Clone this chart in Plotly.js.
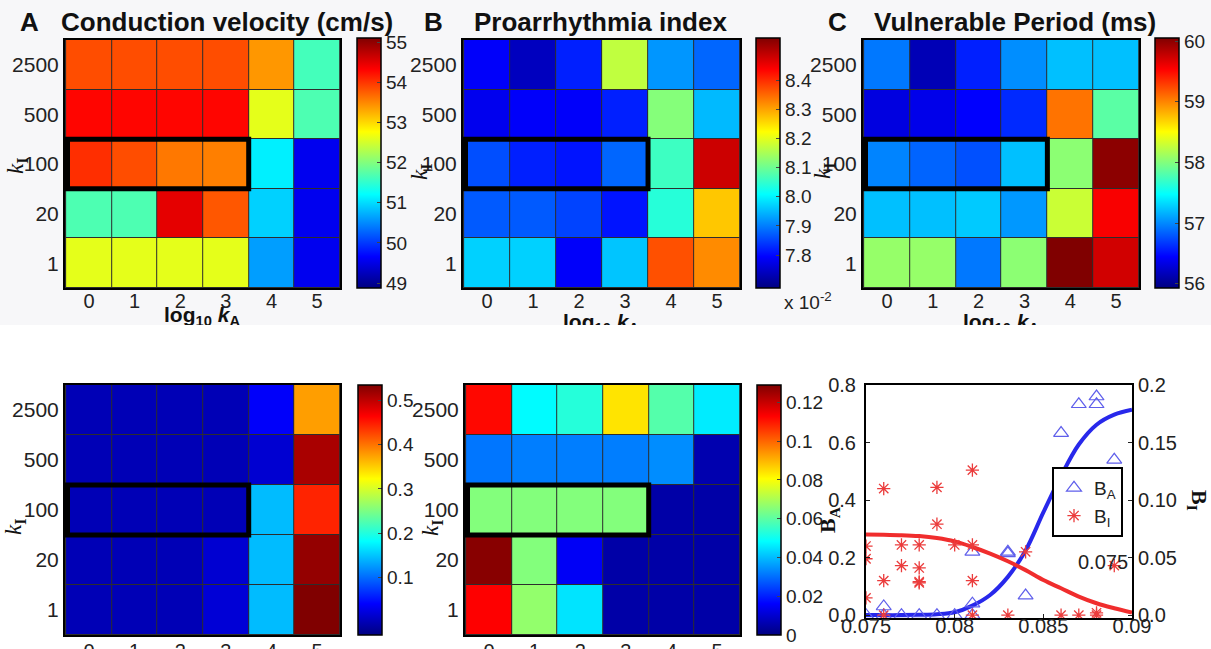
<!DOCTYPE html>
<html><head><meta charset="utf-8">
<script src="https://cdn.plot.ly/plotly-3.0.1.min.js"></script>
<style>
html,body{margin:0;padding:0;background:#fff;overflow:hidden;width:1211px;height:649px;}
#top{position:absolute;left:0;top:0;width:1211px;height:325px;}
#bot{position:absolute;left:0;top:325px;width:1211px;height:324px;}
</style></head><body>
<div id="top"></div><div id="bot"></div>
<script>
// ---------- data ----------
const kA = ['0','1','2','3','4','5'];
const kI = ['2500','500','100','20','1'];   // rows, top to bottom

// A: conduction velocity (cm/s)
const cvValues = [
  [53.85, 53.85, 53.85, 53.85, 53.40, 51.63],
  [54.29, 54.29, 54.29, 54.29, 52.61, 51.68],
  [54.04, 53.85, 53.59, 53.55, 51.12, 49.56],
  [51.68, 51.68, 54.48, 53.79, 50.93, 49.56],
  [52.61, 52.61, 52.61, 52.61, 50.62, 49.56]
];
const cvTicks = [49, 50, 51, 52, 53, 54, 55];

// B: proarrhythmia index (x 10^-2)
const proValues = [
  [7.79, 7.74, 7.82, 8.17, 7.92, 7.88],
  [7.78, 7.79, 7.79, 7.82, 8.12, 7.95],
  [7.86, 7.82, 7.81, 7.88, 8.06, 8.48],
  [7.87, 7.87, 7.85, 7.81, 8.04, 8.27],
  [7.97, 7.97, 7.79, 7.96, 8.37, 8.32]
];
const proTicks = [7.8, 7.9, 8.0, 8.1, 8.2, 8.3, 8.4];

// C: vulnerable period (ms)
const vpValues = [
  [56.93, 56.15, 56.57, 57.02, 57.22, 57.22],
  [56.32, 56.36, 56.44, 56.61, 59.07, 57.84],
  [56.98, 56.85, 56.77, 57.22, 58.04, 60.00],
  [57.22, 57.22, 57.26, 57.06, 58.29, 59.56],
  [58.08, 58.08, 56.93, 58.04, 60.05, 59.72]
];
const vpTicks = [56, 57, 58, 59, 60];

// D: bottom-left map
const dValues = [
  [0.0, 0.0, 0.0, 0.0, 0.038, 0.377],
  [0.0, 0.0, 0.0, 0.0, 0.015, 0.512],
  [0.0, 0.0, 0.0, 0.0, 0.145, 0.445],
  [0.0, 0.0, 0.0, 0.015, 0.145, 0.524],
  [0.0, 0.0, 0.0, 0.018, 0.145, 0.535]
];
const dTicks = [0.1, 0.2, 0.3, 0.4, 0.5];
const dTickText = ['0.1', '0.2', '0.3', '0.4', '0.5'];

// E: bottom-middle map
const eValues = [
  [0.112, 0.048, 0.053, 0.084, 0.059, 0.046],
  [0.031, 0.032, 0.032, 0.032, 0.034, 0.006],
  [0.065, 0.065, 0.065, 0.065, 0.005, 0.005],
  [0.128, 0.065, 0.015, 0.005, 0.005, 0.005],
  [0.113, 0.067, 0.045, 0.005, 0.005, 0.005]
];
const eTicks = [0, 0.02, 0.04, 0.06, 0.08, 0.1, 0.12];
const eTickText = ['0', '0.02', '0.04', '0.06', '0.08', '0.1', '0.12'];

// F: scatter B_A (left axis) and B_I (right axis)
const baX = [0.075, 0.076, 0.076, 0.077, 0.078, 0.079, 0.080, 0.081, 0.081, 0.081, 0.083, 0.083, 0.084, 0.086, 0.087, 0.088, 0.088, 0.089];
const baY = [0.0, 0.03, 0.0, 0.0, 0.0, 0.0, 0.0, 0.04, 0.0, 0.22, 0.22, 0.215, 0.068, 0.633, 0.733, 0.76, 0.733, 0.54];
const biX = [0.075, 0.075, 0.075, 0.076, 0.076, 0.076, 0.077, 0.077, 0.078, 0.078, 0.078, 0.078, 0.079, 0.079, 0.080, 0.081, 0.081, 0.081, 0.081, 0.083, 0.084, 0.086, 0.087, 0.088, 0.088, 0.089];
const biY = [0.060, 0.049, 0.015, 0.110, 0.030, 0.0, 0.061, 0.043, 0.061, 0.041, 0.029, 0.028, 0.111, 0.079, 0.061, 0.126, 0.061, 0.030, 0.0, 0.0, 0.055, 0.0, 0.0, 0.002, 0.0, 0.043];
const fitX  = [0.075, 0.076, 0.077, 0.078, 0.079, 0.080, 0.081, 0.082, 0.083, 0.084, 0.085, 0.086, 0.087, 0.088, 0.089, 0.090];
const baFit = [0.0, 0.0, 0.0, 0.001, 0.003, 0.010, 0.033, 0.070, 0.133, 0.225, 0.357, 0.484, 0.593, 0.662, 0.697, 0.714];
const biFit = [0.0701, 0.0698, 0.0695, 0.0687, 0.0670, 0.0641, 0.0592, 0.0534, 0.0468, 0.0391, 0.0305, 0.0233, 0.0161, 0.0103, 0.0060, 0.0023];
const fxTicks = [0.075, 0.08, 0.085, 0.09];
const fxTickText = ['0.075', '0.08', '0.085', '0.09'];
const baTicks = [0, 0.2, 0.4, 0.6, 0.8];
const baTickText = ['0.0', '0.2', '0.4', '0.6', '0.8'];
const biTicks = [0, 0.05, 0.1, 0.15, 0.2];
const biTickText = ['0.0', '0.05', '0.10', '0.15', '0.2'];

// ---------- styling ----------
const W = 1211;
const fx = p => p / W;
const fyT = p => 1 - p / 325;
const fyB = p => 1 - (p - 325) / 324;
const SANS = 'Liberation Sans, Arial, sans-serif';
const SERIF = 'Liberation Serif, Times New Roman, serif';
const jet = [[0,'rgb(0,0,128)'],[0.125,'rgb(0,0,255)'],[0.375,'rgb(0,255,255)'],[0.625,'rgb(255,255,0)'],[0.875,'rgb(255,0,0)'],[1,'rgb(128,0,0)']];

function hmX(d){return {domain:d, type:'category', showline:true, mirror:true, linecolor:'black', linewidth:2, ticks:'', showgrid:false, zeroline:false, tickfont:{family:SANS,size:20,color:'#222'}, ticklabelstandoff:-6, fixedrange:true};}
function hmY(d){return {domain:d, type:'category', autorange:'reversed', showline:true, mirror:true, linecolor:'black', linewidth:2, ticks:'', showgrid:false, zeroline:false, tickfont:{family:SANS,size:21,color:'#222'}, ticklabelstandoff:0, fixedrange:true};}
function cbar(x, y, len, extra){return Object.assign({x:x, xanchor:'left', xpad:0, ypad:0, y:y, yanchor:'middle', len:len, lenmode:'fraction', thickness:24, thicknessmode:'pixels', outlinecolor:'black', outlinewidth:1.5, ticks:'inside', ticklen:4, tickcolor:'#444', tickfont:{family:SANS,size:19,color:'#222'}}, extra);}
function hm(z, zmin, zmax, xa, ya, cb){return {type:'heatmap', x:kA, y:kI, z:z, zmin:zmin, zmax:zmax, colorscale:jet, xgap:1, ygap:1, xaxis:xa, yaxis:ya, colorbar:cb, hoverinfo:'skip'};}
function box(xa, ya){return {type:'rect', xref:xa, yref:ya, x0:-0.47, x1:3.5, y0:1.5, y1:2.5, line:{color:'black', width:5}, layer:'above'};}
function ann(text, x, y, size, opts){return Object.assign({text:text, x:x, y:y, xref:'paper', yref:'paper', xanchor:'center', yanchor:'middle', showarrow:false, font:{family:SANS, size:size, color:'#111'}}, opts||{});}
const kFont = {family:SERIF, size:23, color:'#111'};

// ---------- top row ----------
const yT = [fyT(288), fyT(40)];
const cbYT = fyT(163), cbLT = 250/325;
const topData = [
  hm(cvValues, 48.88, 55.1, 'x', 'y', cbar(fx(357), cbYT, cbLT, {tickvals:cvTicks})),
  hm(proValues, 7.687, 8.544, 'x2', 'y2', cbar(fx(756), cbYT, cbLT, {tickvals:proTicks, tickformat:'.1f'})),
  hm(vpValues, 55.93, 60.05, 'x3', 'y3', cbar(fx(1155), cbYT, cbLT, {tickvals:vpTicks}))
];
const topLayout = {
  width:1211, height:325, margin:{l:0,r:0,t:0,b:0},
  paper_bgcolor:'#f7f7f9', plot_bgcolor:'rgb(45,45,45)', showlegend:false,
  xaxis:Object.assign(hmX([fx(65), fx(340)]), {anchor:'y'}),
  yaxis:Object.assign(hmY(yT), {anchor:'x'}),
  xaxis2:Object.assign(hmX([fx(463), fx(740)]), {anchor:'y2'}),
  yaxis2:Object.assign(hmY(yT), {anchor:'x2'}),
  xaxis3:Object.assign(hmX([fx(863), fx(1139)]), {anchor:'y3'}),
  yaxis3:Object.assign(hmY(yT), {anchor:'x3'}),
  shapes:[box('x','y'), box('x2','y2'), box('x3','y3')],
  annotations:[
    ann('<b>A</b>', fx(18), fyT(22), 26, {xanchor:'left'}),
    ann('<b>Conduction velocity (cm/s)</b>', fx(59), fyT(22), 26, {xanchor:'left'}),
    ann('<b>B</b>', fx(422), fyT(22), 26, {xanchor:'left'}),
    ann('<b>Proarrhythmia index</b>', fx(472), fyT(22), 26, {xanchor:'left'}),
    ann('<b>C</b>', fx(826), fyT(22), 26, {xanchor:'left'}),
    ann('<b>Vulnerable Period (ms)</b>', fx(872), fyT(22), 26, {xanchor:'left'}),
    ann('<i>k</i><sub><b>I</b></sub>', fx(17), fyT(166), 23, {textangle:-90, font:kFont}),
    ann('<i>k</i><sub><b>I</b></sub>', fx(421), fyT(172), 23, {textangle:-90, font:kFont}),
    ann('<i>k</i><sub><b>I</b></sub>', fx(824), fyT(171), 23, {textangle:-90, font:kFont}),
    ann('<b>log<sub>10</sub> </b><i><b>k</b></i><sub><b>A</b></sub>', fx(202), fyT(316), 21),
    ann('<b>log<sub>10</sub> </b><i><b>k</b></i><sub><b>A</b></sub>', fx(601), fyT(323), 21),
    ann('<b>log<sub>10</sub> </b><i><b>k</b></i><sub><b>A</b></sub>', fx(1001), fyT(323), 21),
    ann('x 10<sup>-2</sup>', fx(782), fyT(301), 19, {xanchor:'left', font:{family:SANS,size:19,color:'#222'}})
  ]
};

// ---------- bottom row ----------
const yB = [fyB(635), fyB(385)];
const cbYB = fyB(510), cbLB = 250/324;
const botData = [
  hm(dValues, -0.03, 0.535, 'x', 'y', cbar(fx(358), cbYB, cbLB, {tickvals:dTicks, ticktext:dTickText})),
  hm(eValues, 0, 0.129, 'x2', 'y2', cbar(fx(757), cbYB, cbLB, {tickvals:eTicks, ticktext:eTickText})),
  {type:'scatter', mode:'lines', x:fitX, y:baFit, xaxis:'x3', yaxis:'y3', showlegend:false, line:{color:'rgb(40,40,235)', width:4, shape:'spline'}, hoverinfo:'skip'},
  {type:'scatter', mode:'markers', x:baX, y:baY, xaxis:'x3', yaxis:'y3', name:'B<sub>A</sub>', marker:{symbol:'triangle-up-open', size:13, color:'rgb(95,95,235)', line:{width:1.2, color:'rgb(95,95,235)'}}},
  {type:'scatter', mode:'lines', x:fitX, y:biFit, xaxis:'x3', yaxis:'y4', showlegend:false, line:{color:'rgb(240,45,45)', width:4, shape:'spline'}, hoverinfo:'skip'},
  {type:'scatter', mode:'markers', x:biX, y:biY, xaxis:'x3', yaxis:'y4', name:'B<sub>I</sub>', marker:{symbol:'asterisk-open', size:11, color:'rgb(235,60,60)', line:{width:1.3, color:'rgb(235,60,60)'}}}
];
const scAx = {showline:true, linecolor:'black', linewidth:2, showgrid:false, zeroline:false, ticks:'inside', ticklen:4, tickcolor:'#222', tickfont:{family:SANS,size:20,color:'#222'}, fixedrange:true};
const botLayout = {
  width:1211, height:324, margin:{l:0,r:0,t:0,b:0},
  paper_bgcolor:'#ffffff', plot_bgcolor:'rgb(45,45,45)', showlegend:true,
  xaxis:Object.assign(hmX([fx(65), fx(340)]), {anchor:'y', ticklabelstandoff:-3}),
  yaxis:Object.assign(hmY(yB), {anchor:'x'}),
  xaxis2:Object.assign(hmX([fx(465), fx(740)]), {anchor:'y2', ticklabelstandoff:-3}),
  yaxis2:Object.assign(hmY(yB), {anchor:'x2'}),
  xaxis3:Object.assign({}, scAx, {domain:[fx(866), fx(1132)], anchor:'y3', range:[0.075, 0.09], tickvals:fxTicks, ticktext:fxTickText, mirror:true, ticklabelstandoff:-11}),
  yaxis3:Object.assign({}, scAx, {domain:[fyB(618), fyB(385)], anchor:'x3', range:[-0.01, 0.8], tickvals:baTicks, ticktext:baTickText, ticklabelstandoff:4}),
  yaxis4:Object.assign({}, scAx, {overlaying:'y3', side:'right', anchor:'x3', range:[-0.0025, 0.2], tickvals:biTicks, ticktext:biTickText, ticklabelstandoff:0}),
  legend:{x:fx(1052), y:fyB(467), xanchor:'left', yanchor:'top', bgcolor:'white', bordercolor:'black', borderwidth:2, font:{family:SANS,size:19,color:'#222'}, itemwidth:30, tracegroupgap:4},
  shapes:[
    {type:'rect', xref:'x3 domain', yref:'y3 domain', x0:0, x1:1, y0:0, y1:1, fillcolor:'white', line:{width:0}, layer:'below'},
    box('x','y'), box('x2','y2')
  ],
  annotations:[
    ann('<i>k</i><sub><b>I</b></sub>', fx(15), fyB(527), 23, {textangle:-90, font:kFont}),
    ann('<i>k</i><sub><b>I</b></sub>', fx(432), fyB(528), 23, {textangle:-90, font:kFont}),
    ann('<b>B<sub>A</sub></b>', fx(829), fyB(520), 22, {textangle:-90, font:{family:SERIF,size:22,color:'#111'}}),
    ann('<b>B<sub>I</sub></b>', fx(1198), fyB(500), 22, {textangle:90, font:{family:SERIF,size:22,color:'#111'}}),
    ann('0.075', fx(1103), fyB(562), 20, {font:{family:SANS,size:20,color:'#222'}})
  ]
};

Plotly.newPlot('top', topData, topLayout, {staticPlot:true, displayModeBar:false});
Plotly.newPlot('bot', botData, botLayout, {staticPlot:true, displayModeBar:false});
</script>
</body></html>
